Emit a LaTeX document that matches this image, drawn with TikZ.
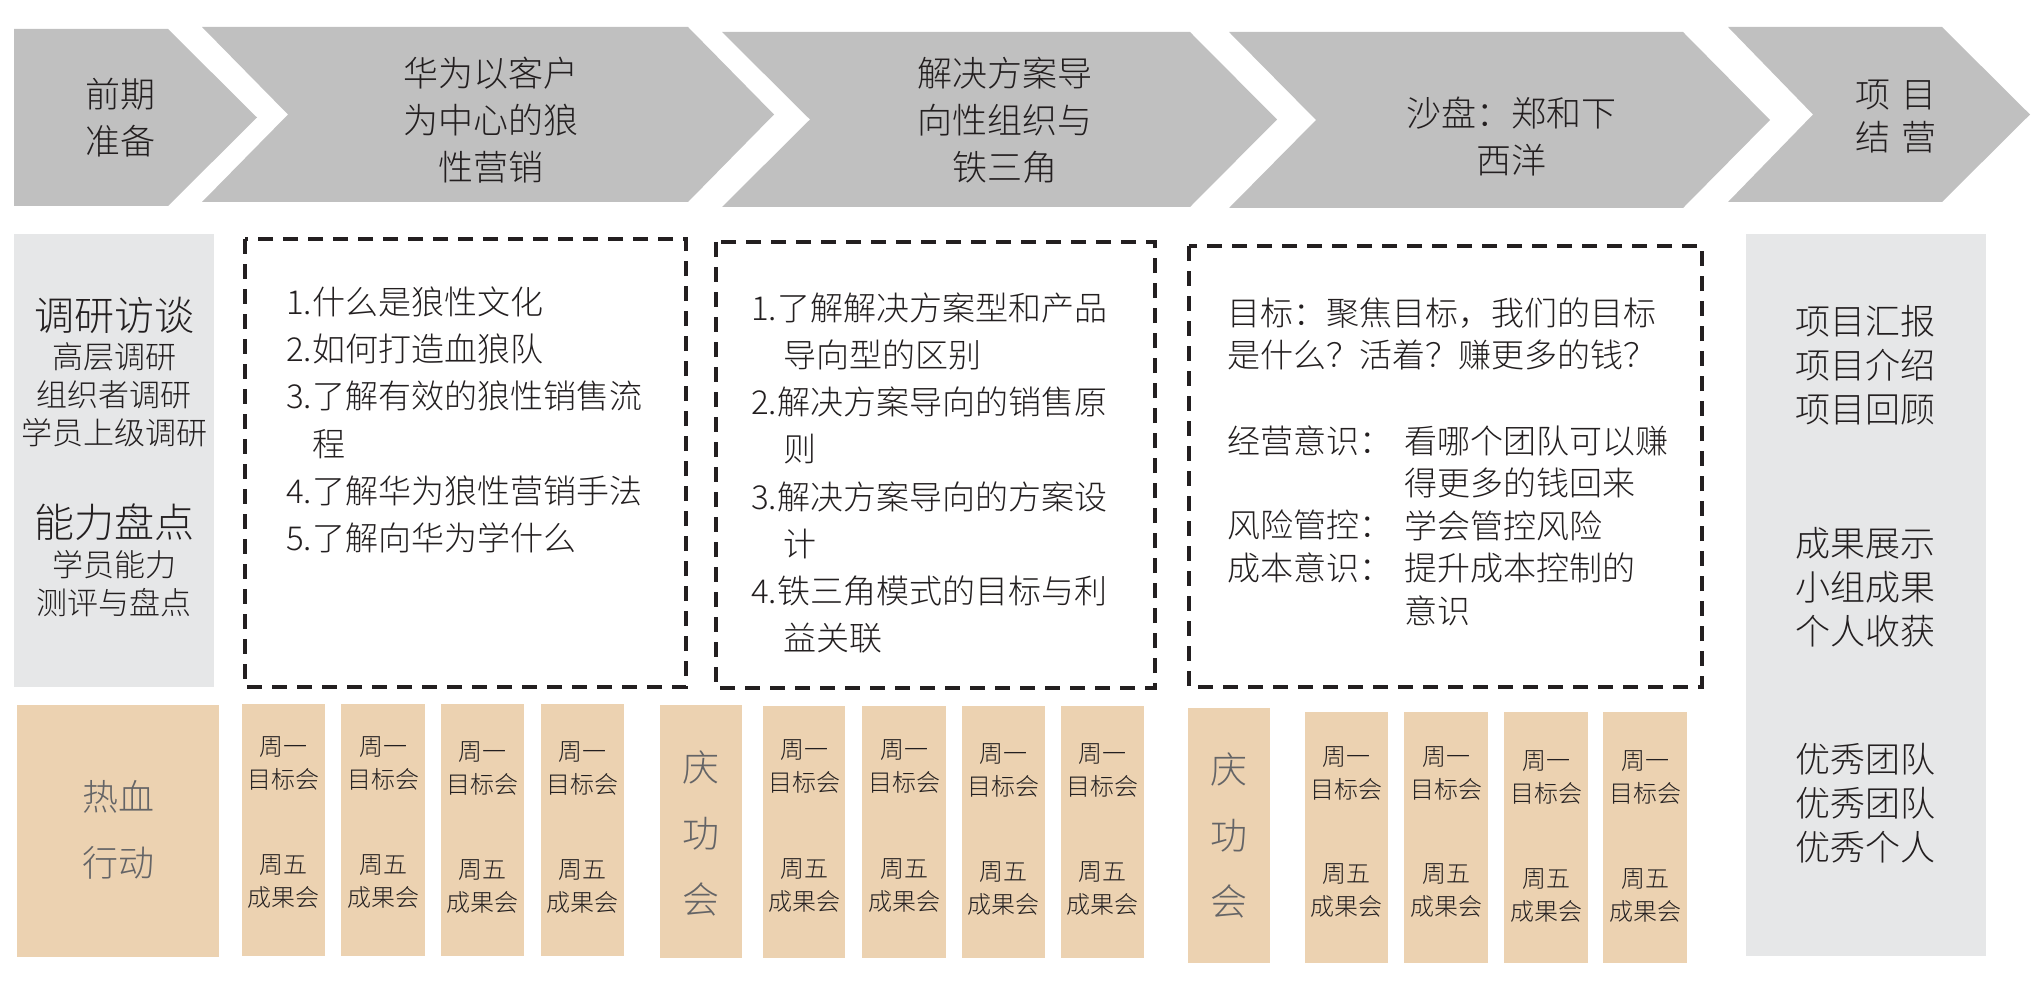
\documentclass[tikz,border=0pt]{standalone}
\usepackage{fontspec}
\setmainfont{Noto Sans CJK SC Light}
\definecolor{chev}{RGB}{192,192,192}
\definecolor{txt}{RGB}{35,31,32}
\definecolor{lgray}{RGB}{230,231,232}
\definecolor{tanf}{RGB}{236,210,177}
\definecolor{tgray}{RGB}{100,100,102}
\tikzset{
  chevtxt/.style={font=\fontsize{35}{47}\selectfont, text=txt, align=center, inner sep=0pt},
  item/.style={font=\fontsize{33}{47.2}\selectfont, text=txt, align=left, inner sep=0pt, anchor=west},
  goal/.style={font=\fontsize{33}{42.5}\selectfont, text=txt, align=left, inner sep=0pt, anchor=west},
  bigtxt/.style={font=\fontsize{40}{48}\selectfont, text=txt, align=center, inner sep=0pt},
  smalltxt/.style={font=\fontsize{31}{38}\selectfont, text=txt, align=center, inner sep=0pt},
  righttxt/.style={font=\fontsize{35}{44}\selectfont, text=txt, align=center, inner sep=0pt},
  tantxt/.style={font=\fontsize{37}{66}\selectfont, text=tgray, align=center, inner sep=0pt},
  wk/.style={font=\fontsize{24}{33}\selectfont, text=txt, align=center, inner sep=0pt},
  dbox/.style={draw=txt, line width=4pt, dash pattern=on 15pt off 10pt}
}
\begin{document}
\begin{tikzpicture}[x=1pt,y=-1pt]
\useasboundingbox (0,0) rectangle (2040,995);
% ---- top chevrons ----
\fill[chev] (14,29) -- (168,29) -- (257,117.5) -- (168,206) -- (14,206) -- cycle;
\fill[chev] (202,27) -- (688,27) -- (774,114.5) -- (688,202) -- (202,202) -- (288,114.5) -- cycle;
\fill[chev] (722,32) -- (1190,32) -- (1277,119.5) -- (1190,207) -- (722,207) -- (810,119.5) -- cycle;
\fill[chev] (1229,32) -- (1683,32) -- (1770,120) -- (1683,208) -- (1229,208) -- (1316,120) -- cycle;
\fill[chev] (1728,27) -- (1942,27) -- (2030,114.5) -- (1942,202) -- (1728,202) -- (1813,114.5) -- cycle;
\node[chevtxt] (c1) at (120,118) {前期\\准备};
\node[chevtxt] (c2) at (491,120) {华为以客户\\为中心的狼\\性营销};
\node[chevtxt] (c3) at (1005,120) {解决方案导\\向性组织与\\铁三角};
\node[chevtxt] (c4) at (1511,137) {沙盘：郑和下\\西洋};
\node[chevtxt, font=\fontsize{35}{43}\selectfont] (c5) at (1896,117) {项\hspace{12pt}目\\结\hspace{12pt}营};
% ---- middle row ----
\fill[lgray] (14,234) rectangle (214,687);
\node[bigtxt] (dy) at (114,315) {调研访谈};
\node[smalltxt] (dy2) at (114,395) {高层调研\\组织者调研\\学员上级调研};
\node[bigtxt] (nl) at (114,522) {能力盘点};
\node[smalltxt] (nl2) at (114,584) {学员能力\\测评与盘点};
\draw[dbox] (245,239) rectangle (686,687);
\node[item] (b1) at (286,420) {1.什么是狼性文化\\2.如何打造血狼队\\3.了解有效的狼性销售流\\\hspace*{26pt}程\\4.了解华为狼性营销手法\\5.了解向华为学什么};
\draw[dbox] (716,242) rectangle (1155,688);
\node[item] (b2) at (751,473) {1.了解解决方案型和产品\\\hspace*{32pt}导向型的区别\\2.解决方案导向的销售原\\\hspace*{32pt}则\\3.解决方案导向的方案设\\\hspace*{32pt}计\\4.铁三角模式的目标与利\\\hspace*{32pt}益关联};
\draw[dbox] (1189,246) rectangle (1702,687);
\node[goal] (g1) at (1227,334) {目标：聚焦目标，我们的目标\\是什么？活着？赚更多的钱？};
\node[goal] (g2) at (1227,441) {经营意识：};
\node[goal] (g3) at (1227,525) {风险管控：};
\node[goal] (g4) at (1227,568) {成本意识：};
\node[goal] (g5) at (1404,525.5) {看哪个团队可以赚\\得更多的钱回来\\学会管控风险\\提升成本控制的\\意识};
\fill[lgray] (1746,234) rectangle (1986,956);
\node[righttxt] (r1) at (1865,365) {项目汇报\\项目介绍\\项目回顾};
\node[righttxt] (r2) at (1865,587) {成果展示\\小组成果\\个人收获};
\node[righttxt] (r3) at (1865,803) {优秀团队\\优秀团队\\优秀个人};
% ---- bottom row ----
\fill[tanf] (17,705) rectangle (219,957);
\node[tantxt, font=\fontsize{36}{66}\selectfont] (rx) at (118,830) {热血\\行动};
\fill[tanf] (660,705) rectangle (742,958);
\node[tantxt] (qg1) at (701,833) {庆\\功\\会};
\fill[tanf] (1188,708) rectangle (1270,963);
\node[tantxt] (qg2) at (1229,835) {庆\\功\\会};
\foreach \i/\xa/\xb/\ya/\yb/\ta/\tb in {
  1/242/325/704/956/763.5/881.5,
  2/341/425/704/956/763.5/881.5,
  3/441/524/704/956/768.5/886.5,
  4/541/624/704/956/768.5/886.5,
  5/763/845/706/958/766.5/885,
  6/862/946/706/958/766.5/885,
  7/962/1045/706/958/770.5/888.5,
  8/1061/1144/706/958/770.5/888.5,
  9/1305/1388/712/963/773.5/890.5,
  10/1404/1488/712/963/773.5/890.5,
  11/1504/1588/712/963/777.5/895,
  12/1603/1687/712/963/777.5/895}{
  \fill[tanf] (\xa,\ya) rectangle (\xb,\yb);
  \node[wk] (mon\i) at ({(\xa+\xb)/2},\ta) {周一\\目标会};
  \node[wk] (fri\i) at ({(\xa+\xb)/2},\tb) {周五\\成果会};
}
\end{tikzpicture}
\end{document}
